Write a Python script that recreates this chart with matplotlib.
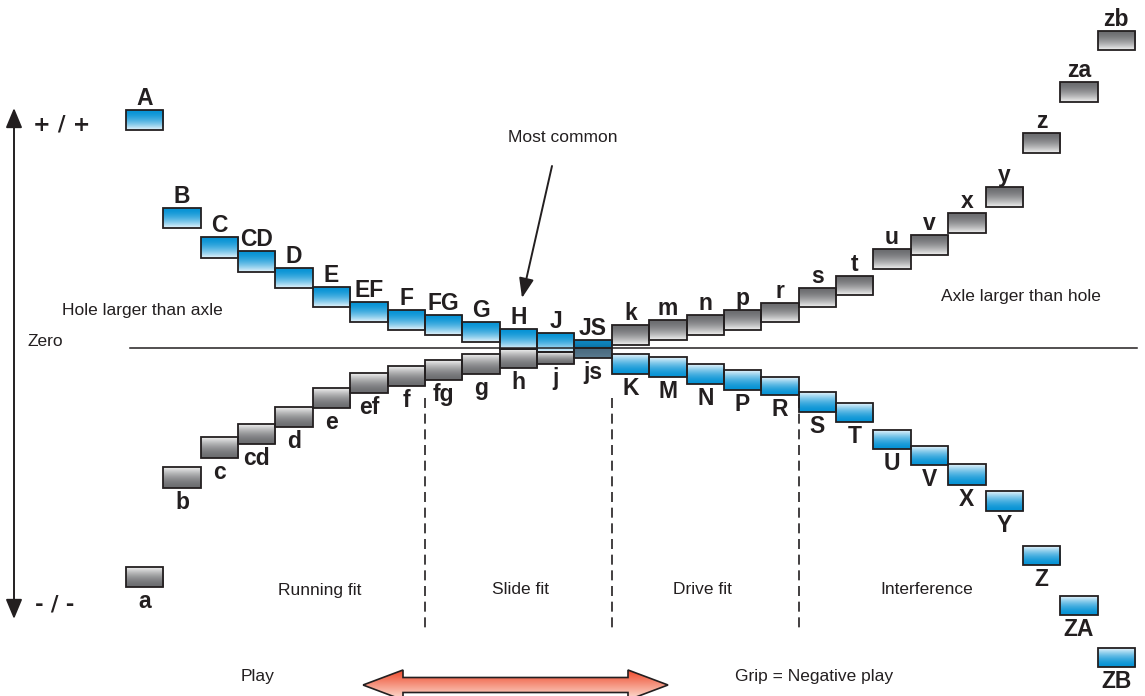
import numpy as np
import matplotlib
matplotlib.use('Agg')
import matplotlib.pyplot as plt
from matplotlib.patches import Rectangle, Polygon
from matplotlib.colors import to_rgb

plt.rcParams['font.family'] = ['Liberation Sans', 'DejaVu Sans']
SIGN_FONT = ['DejaVu Sans']

# ---------------- data (deviation from zero line, arbitrary units) ----------------
hole_labels = ['A', 'B', 'C', 'CD', 'D', 'E', 'EF', 'F', 'FG', 'G', 'H', 'J', 'JS',
               'K', 'M', 'N', 'P', 'R', 'S', 'T', 'U', 'V', 'X', 'Y', 'Z', 'ZA', 'ZB']
hole_upper = [238, 140, 111, 97, 80, 61, 46, 38, 33, 26, 19, 15, 8,
              -6, -9, -16, -22, -29, -44, -55, -82, -98, -116, -143, -198, -248, -300]
hole_lower = [218, 120, 90, 76, 60, 41, 26, 18, 13, 6, -1, -4, 0,
              -26, -29, -36, -42, -47, -64, -74, -101, -117, -137, -163, -217, -267, -319]

shaft_labels = ['a', 'b', 'c', 'cd', 'd', 'e', 'ef', 'f', 'fg', 'g', 'h', 'j', 'js',
                'k', 'm', 'n', 'p', 'r', 's', 't', 'u', 'v', 'x', 'y', 'z', 'za', 'zb']
shaft_upper = [-219, -119, -89, -76, -59, -40, -25, -18, -12, -6, -1, -4, 0,
               23, 28, 33, 38, 45, 60, 72, 99, 113, 135, 161, 215, 266, 317]
shaft_lower = [-239, -140, -110, -96, -79, -60, -45, -38, -32, -26, -20, -16, -10,
               3, 8, 13, 18, 26, 41, 53, 79, 93, 115, 141, 195, 246, 298]

zone_labels = ['Running fit', 'Slide fit', 'Drive fit', 'Interference']
zone_bounds = [8, 13, 18]          # column index where a zone boundary lies

# ---------------- styling ----------------
W, H = 1145, 696
EDGE = '#231f20'
TXT = '#231f20'
BLUE = ('#0693d5', '#e8f5fc')
GRAY = ('#6c6d70', '#f2f2f2')
JS_C = ('#0f86c0', '#0c6f9f')
js_C = ('#4b6b80', '#5c7e93')

fig = plt.figure(figsize=(W / 100, H / 100), dpi=100)
ax = fig.add_axes([0, 0, 1, 1])
ax.axis('off')
col_px0, col_w, zero_px = 126.0, 37.37, 348.0
xlim = (-col_px0 / col_w, (W - col_px0) / col_w)
ylim = (zero_px - H, zero_px)


def grad_img(c_top, c_bot, n=64, gamma=1.0, reverse=False):
    t = np.linspace(0, 1, n)
    t = 1 - (1 - t) ** gamma if reverse else t ** gamma
    a = np.array(to_rgb(c_top))
    b = np.array(to_rgb(c_bot))
    img = a[None, :] * (1 - t[:, None]) + b[None, :] * t[:, None]
    return img[:, None, :]


def draw_box(i, up, lo, ctop, cbot, reverse=False):
    ax.imshow(grad_img(ctop, cbot, gamma=1.7, reverse=reverse),
              extent=(i, i + 1, lo, up), aspect='auto',
              origin='upper', interpolation='bilinear', zorder=2)
    ax.add_patch(Rectangle((i, lo), 1, up - lo, fill=False, ec=EDGE, lw=1.3, zorder=3))


def label(i, up, lo, text, above):
    kw = dict(ha='center', fontsize=16.5, fontweight='bold', color=TXT, zorder=4)
    if above:
        ax.text(i + 0.5, up + 5, text, va='baseline', **kw)
    else:
        ax.text(i + 0.5, lo - 3, text, va='top', **kw)


for i, (lab, up, lo) in enumerate(zip(hole_labels, hole_upper, hole_lower)):
    if lab == 'JS':
        draw_box(i, up, lo, *JS_C)
    elif lo >= -5 and up > 0:
        draw_box(i, up, lo, *BLUE)
    else:
        draw_box(i, up, lo, BLUE[1], BLUE[0], reverse=True)
    label(i, up, lo, lab, above=(up + lo) / 2 > -1)

for i, (lab, up, lo) in enumerate(zip(shaft_labels, shaft_upper, shaft_lower)):
    if lab == 'js':
        draw_box(i, up, lo, *js_C)
    elif (up + lo) / 2 > 0:
        draw_box(i, up, lo, *GRAY)
    else:
        draw_box(i, up, lo, GRAY[1], GRAY[0], reverse=True)
    label(i, up, lo, lab, above=(up + lo) / 2 > 0)

ax.set_xlim(*xlim)
ax.set_ylim(*ylim)

# ---------------- overlay in pixel coordinates for annotations ----------------
ov = fig.add_axes([0, 0, 1, 1], facecolor='none')
ov.axis('off')
ov.set_xlim(0, W)
ov.set_ylim(H, 0)

# zero line
ov.plot([130, 1137], [zero_px, zero_px], color=EDGE, lw=1.1, zorder=5)

# dashed zone boundaries
for b in zone_bounds:
    xp = col_px0 + b * col_w
    ov.plot([xp, xp], [398, 632], color=EDGE, lw=1.2, ls=(0, (6.0, 3.4)))

zone_centers = [320, 520, 702, 927]
for t, xc in zip(zone_labels, zone_centers):
    ov.text(xc, 590, t, ha='center', va='center', fontsize=12.5, color=TXT)

# vertical +/- arrow
ov.annotate('', xy=(14, 108), xytext=(14, 619),
            arrowprops=dict(arrowstyle='<|-|>,head_length=1.2,head_width=0.5',
                            mutation_scale=10, lw=1.4, color=EDGE,
                            shrinkA=0, shrinkB=0))
ov.text(33, 124, '+ / +', ha='left', va='center', fontsize=15, fontweight='bold',
        color=TXT, family=SIGN_FONT)
ov.text(35, 604, '- / -', ha='left', va='center', fontsize=15, fontweight='bold',
        color=TXT, family=SIGN_FONT)
ov.text(27, 342, 'Zero', ha='left', va='center', fontsize=12.5, color=TXT)
ov.text(62, 311, 'Hole larger than axle', ha='left', va='center', fontsize=12.5, color=TXT)
ov.text(941, 297, 'Axle larger than hole', ha='left', va='center', fontsize=12.5, color=TXT)

# Most common
ov.text(563, 137, 'Most common', ha='center', va='center', fontsize=12.5, color=TXT)
ov.annotate('', xy=(522, 298), xytext=(552, 166),
            arrowprops=dict(arrowstyle='-|>,head_length=1.2,head_width=0.45',
                            mutation_scale=10, lw=1.4, color=EDGE,
                            shrinkA=0, shrinkB=0))

# Play / Grip
ov.text(258, 676, 'Play', ha='center', va='center', fontsize=12.5, color=TXT)
ov.text(814, 676, 'Grip = Negative play', ha='center', va='center', fontsize=12.5, color=TXT)

# red double arrow with gradient
yc, hs, hh = 685, 7.5, 15
xl, xr, hl = 363, 668, 40
pts = [(xl, yc), (xl + hl, yc - hh), (xl + hl, yc - hs), (xr - hl, yc - hs),
       (xr - hl, yc - hh), (xr, yc), (xr - hl, yc + hh), (xr - hl, yc + hs),
       (xl + hl, yc + hs), (xl + hl, yc + hh)]
poly = Polygon(pts, closed=True, fill=False, ec=EDGE, lw=1.2, zorder=4)
ov.add_patch(poly)
im = ov.imshow(grad_img('#ee4a2c', '#fde3d8'), extent=(xl, xr, yc + hh, yc - hh),
               aspect='auto', origin='upper', interpolation='bilinear', zorder=3)
im.set_clip_path(poly)
ov.set_xlim(0, W)
ov.set_ylim(H, 0)

fig.savefig('out.png', dpi=100)
